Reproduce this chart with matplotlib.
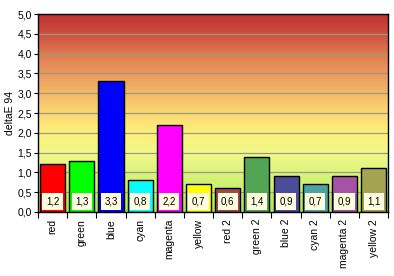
import numpy as np
import matplotlib
matplotlib.use("Agg")
import matplotlib.pyplot as plt
from matplotlib.colors import LinearSegmentedColormap

plt.rcParams['font.family'] = ['Liberation Sans', 'DejaVu Sans']

# --- Data ---
categories = ["red", "green", "blue", "cyan", "magenta", "yellow",
              "red 2", "green 2", "blue 2", "cyan 2", "magenta 2", "yellow 2"]
values = [1.2, 1.3, 3.3, 0.8, 2.2, 0.7, 0.6, 1.4, 0.9, 0.7, 0.9, 1.1]
bar_colors = ["#ff0000", "#00ff00", "#0000ff", "#00ffff", "#ff00ff", "#ffff00",
              "#9c4a4a", "#52a552", "#4c4c9c", "#4ca3a3", "#a652a6", "#a3a352"]
y_ticks = [0.0, 0.5, 1.0, 1.5, 2.0, 2.5, 3.0, 3.5, 4.0, 4.5, 5.0]

fig = plt.figure(figsize=(3.94, 2.76), dpi=100)
ax = fig.add_axes([0.0964, 0.232, 0.889, 0.717])

# background gradient, bottom (green) to top (dark red)
bg = LinearSegmentedColormap.from_list("bg", [
    (0.0, "#a8e858"), (0.1, "#c2f06a"), (0.2, "#dcf47e"), (0.3, "#f2f88a"),
    (0.4, "#fdf07a"), (0.5, "#fbd874"), (0.6, "#f4b868"), (0.7, "#eb9a5e"),
    (0.8, "#e07a50"), (0.9, "#cc5040"), (1.0, "#c03030")])
grad = np.linspace(0, 1, 256).reshape(-1, 1)
ax.imshow(grad, cmap=bg, origin="lower", aspect="auto",
          extent=(-0.5, len(categories) - 0.5, 0, 5), zorder=0)

for y in y_ticks[1:-1]:
    ax.axhline(y, color="#9a9a80", lw=0.9, zorder=1)

x = np.arange(len(categories))
ax.bar(x, values, width=0.86, color=bar_colors, edgecolor="black", lw=1.0, zorder=2)

for xi, v in zip(x, values):
    ax.text(xi, 0.26, f"{v:.1f}".replace(".", ","), ha="center", va="center",
            fontsize=7, zorder=3,
            bbox=dict(boxstyle="square,pad=0.35", fc="#fffde0", ec="none"))

ax.set_xlim(-0.5, len(categories) - 0.5)
ax.set_ylim(0, 5)
ax.set_yticks(y_ticks)
ax.set_yticklabels([f"{t:.1f}".replace(".", ",") for t in y_ticks], fontsize=7.5)
ax.set_xticks(x)
ax.set_xticklabels(categories, rotation=90, fontsize=7.5)
ax.set_xticks(np.arange(len(categories) + 1) - 0.5, minor=True)
ax.tick_params(axis="x", which="major", length=0, pad=5)
ax.tick_params(axis="x", which="minor", length=4, width=0.8, direction="out")
ax.tick_params(axis="y", length=3, width=0.8, pad=1.5)
ax.set_ylabel("deltaE 94", fontsize=7.5)
ax.yaxis.set_label_coords(-0.066, 0.5)

for s in ax.spines.values():
    s.set_linewidth(1.0)
    s.set_color("black")

fig.savefig("out.png", dpi=100)
